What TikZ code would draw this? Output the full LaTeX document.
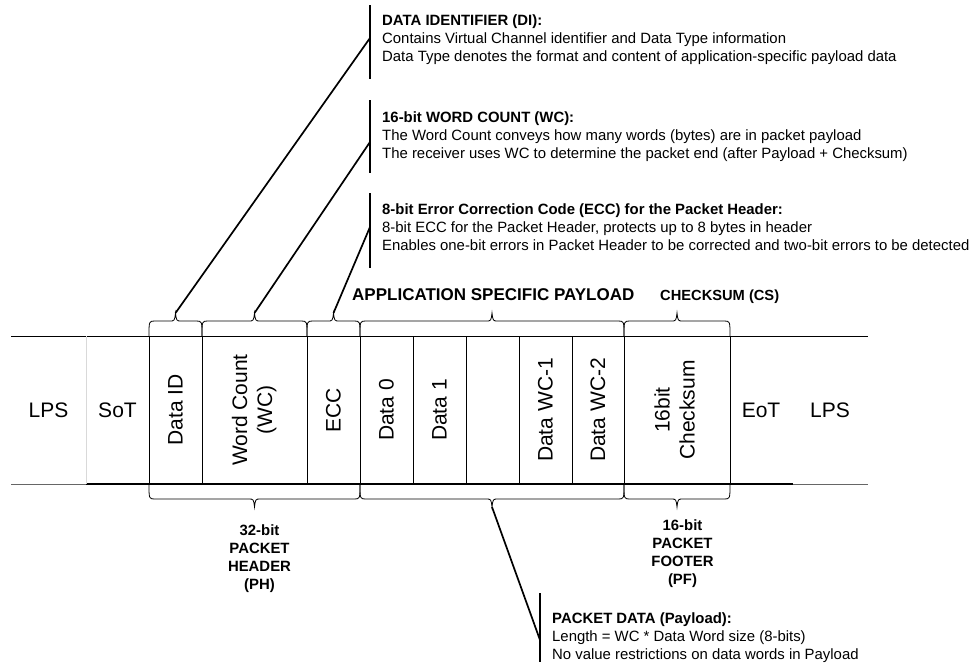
\documentclass[tikz,border=0pt]{standalone}
\usepackage{fontspec}
\setmainfont{Liberation Sans}
\newcommand\pbrace[4]{%
  \pgfmathsetmacro\bmid{(#1+#2)/2}%
  \draw[bracestyle] (#1,#3) .. controls (#1,#3+#4*15) .. (#1+6,#3+#4*15)
    -- (\bmid-6,#3+#4*15) .. controls (\bmid-1,#3+#4*15) .. (\bmid,#3+#4*23)
    .. controls (\bmid+1,#3+#4*15) .. (\bmid+6,#3+#4*15)
    -- (#2-6,#3+#4*15) .. controls (#2,#3+#4*15) .. (#2,#3);}
\tikzset{
  every node/.style={font=\fontsize{14.9}{18}\selectfont, inner sep=0pt},
  cell/.style={draw, line width=1pt, minimum width=#1, minimum height=148pt,
    inner sep=0pt, font=\fontsize{21}{25}\selectfont},
  sidelabel/.style={font=\fontsize{21}{25}\selectfont},
  bracestyle/.style={line width=0.8pt, black},
  leader/.style={line width=1.7pt, black},
  bar/.style={line width=2pt, black},
  note/.style={anchor=base west, align=left},
  boldlabel/.style={anchor=base, align=center, font=\bfseries\fontsize{14.9}{18}\selectfont},
}
\begin{document}
\begin{tikzpicture}[x=1pt,y=-1pt]
\useasboundingbox (0,0) rectangle (971,662);
% frame lines
\draw[line width=1pt] (11,336) -- (868,336);
\draw[line width=0.6pt, black!60] (11,484) -- (86,484);
\draw[line width=1.2pt] (86,484) -- (793,484);
\draw[line width=0.6pt, black!60] (793,484) -- (868,484);
\draw[line width=0.6pt, black!15] (86,336) -- (86,484);
% cells
\node[cell=53pt] (di) at (175.5,410) {\rotatebox{90}{Data ID}};
\node[cell=105pt] (wc) at (254.5,410) {\rotatebox{90}{\begin{tabular}{@{}c@{}}Word Count\\(WC)\end{tabular}}};
\node[cell=53pt] (ecc) at (333.5,410) {\rotatebox{90}{ECC}};
\node[cell=53pt] (d0) at (386.5,410) {\rotatebox{90}{Data 0}};
\node[cell=53pt] (d1) at (439.5,410) {\rotatebox{90}{Data 1}};
\node[cell=53pt] (dblank) at (492.5,410) {};
\node[cell=53pt] (dwc1) at (545.5,410) {\rotatebox{90}{Data WC-1}};
\node[cell=52pt] (dwc2) at (598,410) {\rotatebox{90}{Data WC-2}};
\node[cell=106pt] (cs) at (677,410) {\rotatebox{90}{\begin{tabular}{@{}c@{}}16bit\\Checksum\end{tabular}}};
% side labels
\node[sidelabel] (lps1) at (48.5,410) {LPS};
\node[sidelabel] (sot) at (117.5,410) {SoT};
\node[sidelabel] (eot) at (761,410) {EoT};
\node[sidelabel] (lps2) at (830,410) {LPS};
% braces
\pbrace{149}{202}{336}{-1}
\pbrace{202}{307}{336}{-1}
\pbrace{307}{360}{336}{-1}
\pbrace{360}{624}{336}{-1}
\pbrace{624}{730}{336}{-1}
\pbrace{149}{360}{484}{1}
\pbrace{360}{624}{484}{1}
\pbrace{624}{730}{484}{1}
% brace tips
\coordinate (ditip) at (175.5,313);
\coordinate (wctip) at (254.5,313);
\coordinate (ecctip) at (333.5,313);
\coordinate (pltip) at (492,507);
% bars
\coordinate (dibartop) at (370,5);   \coordinate (dibarbot) at (370,79);
\coordinate (wcbartop) at (370,100); \coordinate (wcbarbot) at (370,173);
\coordinate (eccbartop) at (370,193); \coordinate (eccbarbot) at (370,268);
\coordinate (plbartop) at (540,593); \coordinate (plbarbot) at (540,662);
\draw[bar] (dibartop) -- (dibarbot);
\draw[bar] (wcbartop) -- (wcbarbot);
\draw[bar] (eccbartop) -- (eccbarbot);
\draw[bar] (plbartop) -- (plbarbot);
\coordinate (dihit) at (370,38);
\coordinate (wchit) at (370,142);
\coordinate (ecchit) at (370,227);
\coordinate (plhit) at (540,640);
\draw[leader] (ditip) -- (dihit);
\draw[leader] (wctip) -- (wchit);
\draw[leader] (ecctip) -- (ecchit);
\draw[leader] (pltip) -- (plhit);
% notes (base = last line)
\node[note] (ditext) at (382,61) {\textbf{DATA IDENTIFIER (DI):}\\Contains Virtual Channel identifier and Data Type information\\Data Type denotes the format and content of application-specific payload data};
\node[note] (wctext) at (382,158) {\textbf{16-bit WORD COUNT (WC):}\\The Word Count conveys how many words (bytes) are in packet payload\\The receiver uses WC to determine the packet end (after Payload + Checksum)};
\node[note] (ecctext) at (382,250) {\textbf{8-bit Error Correction Code (ECC) for the Packet Header:}\\8-bit ECC for the Packet Header, protects up to 8 bytes in header\\Enables one-bit errors in Packet Header to be corrected and two-bit errors to be detected};
\node[note] (pltext) at (552,659) {\textbf{PACKET DATA (Payload):}\\Length = WC * Data Word size (8-bits)\\No value restrictions on data words in Payload};
% titles
\node[anchor=base west, font=\bfseries\fontsize{17}{20}\selectfont] (apptext) at (352,300) {APPLICATION SPECIFIC PAYLOAD};
\node[anchor=base west, font=\bfseries\fontsize{14.67}{18}\selectfont] (cstext) at (660,300) {CHECKSUM (CS)};
\node[boldlabel] (phtext) at (259.5,589) {32-bit\\PACKET\\HEADER\\(PH)};
\node[boldlabel] (pftext) at (682.5,584) {16-bit\\PACKET\\FOOTER\\(PF)};
\end{tikzpicture}
\end{document}
